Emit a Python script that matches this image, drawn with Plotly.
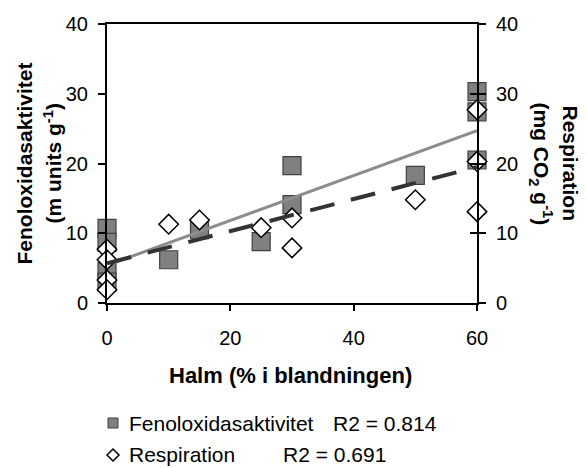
import plotly.graph_objects as go

# ---- data ----
fen_x = [0, 0, 0, 0, 10, 15, 25, 30, 30, 50, 60, 60, 60]
fen_y = [10.7, 8.7, 4.5, 3.0, 6.2, 10.5, 8.8, 19.7, 14.1, 18.3, 30.3, 27.4, 20.5]

resp_x = [0, 0, 0, 0, 10, 15, 25, 30, 30, 50, 60, 60, 60]
resp_y = [7.7, 6.2, 3.3, 1.9, 11.3, 11.9, 10.8, 12.2, 7.9, 14.8, 27.7, 20.3, 13.1]

trend_x = [0, 60]
fen_trend = [5.4, 24.7]
resp_trend = [5.7, 19.5]

x_ticks = [0, 20, 40, 60]
y_ticks = [0, 10, 20, 30, 40]

FONT = "Liberation Sans, Arial, sans-serif"

fig = go.Figure()

fig.add_trace(go.Scatter(
    x=fen_x, y=fen_y, mode="markers", showlegend=False, cliponaxis=False,
    marker=dict(symbol="square", size=18, color="#808080",
                line=dict(color="#404040", width=1.2)),
))
fig.add_trace(go.Scatter(
    x=resp_x, y=resp_y, mode="markers", showlegend=False, yaxis="y2", cliponaxis=False,
    marker=dict(symbol="diamond", size=15, color="white",
                line=dict(color="black", width=1.5)),
))
fig.add_trace(go.Scatter(
    x=trend_x, y=fen_trend, mode="lines", showlegend=False, cliponaxis=False,
    line=dict(color="#8c8c8c", width=3),
))
fig.add_trace(go.Scatter(
    x=trend_x, y=resp_trend, mode="lines", showlegend=False, yaxis="y2", cliponaxis=False,
    line=dict(color="#333333", width=4, dash="25px,17px"),
))
# invisible trace so the inner-tick overlay axis is drawn
fig.add_trace(go.Scatter(
    x=[0], y=[0], mode="markers", showlegend=False, yaxis="y3",
    marker=dict(opacity=0), hoverinfo="skip",
))

tickfont = dict(family=FONT, size=20, color="black")

fig.update_layout(
    width=579, height=460,
    margin=dict(l=99, r=110, t=16, b=165, autoexpand=False),
    paper_bgcolor="white", plot_bgcolor="white",
    font=dict(family=FONT, color="black"),
    xaxis=dict(range=[0, 60], tickvals=x_ticks, showgrid=False, zeroline=False,
               showline=True, linecolor="black", linewidth=2, mirror=True,
               ticks="outside", ticklen=6, tickwidth=2, tickcolor="black",
               tickfont=tickfont, ticklabelstandoff=10, automargin=False),
    yaxis=dict(range=[0, 40], tickvals=y_ticks, showgrid=False, zeroline=False,
               showline=True, linecolor="black", linewidth=2,
               ticks="outside", ticklen=7, tickwidth=2, tickcolor="black",
               tickfont=tickfont, ticklabelstandoff=6, automargin=False),
    yaxis2=dict(range=[0, 40], tickvals=y_ticks, showgrid=False, zeroline=False,
                overlaying="y", side="right", anchor="x",
                showline=True, linecolor="black", linewidth=2,
                ticks="outside", ticklen=7, tickwidth=2, tickcolor="black",
                tickfont=tickfont, ticklabelstandoff=6, automargin=False),
    yaxis3=dict(range=[0, 40], tickvals=y_ticks, showgrid=False, zeroline=False,
                overlaying="y", side="right", anchor="x",
                showline=False, showticklabels=False, automargin=False,
                ticks="inside", ticklen=7, tickwidth=2, tickcolor="black"),
)

def px_x(px):
    return (px - 107) / 370.0

def px_y(py):
    return (303 - py) / 279.0

title_font = dict(family=FONT, size=21, color="black")
common = dict(xref="paper", yref="paper", showarrow=False, yanchor="middle")
ann = []
ann.append(dict(text="<b>Halm (% i blandningen)</b>", x=px_x(290), y=px_y(375),
                xanchor="center", font=dict(family=FONT, size=22), **common))
ann.append(dict(text="<b>Fenoloxidasaktivitet</b>", x=px_x(24), y=0.5, textangle=-90,
                xanchor="center", font=title_font, **common))
ann.append(dict(text="<b>(m units g<sup>-1</sup>)</b>", x=px_x(52), y=0.5, textangle=-90,
                xanchor="center", font=title_font, **common))
ann.append(dict(text="<b>Respiration</b>", x=px_x(570), y=0.5, textangle=90,
                xanchor="center", font=title_font, **common))
ann.append(dict(text="<b>(mg CO<sub>2</sub> g<sup>-1</sup>)</b>", x=px_x(541), y=0.5, textangle=90,
                xanchor="center", font=title_font, **common))

legend_font = dict(family=FONT, size=21, color="black")
ann.append(dict(text="Fenoloxidasaktivitet", x=px_x(127), y=px_y(423), xanchor="left",
                font=legend_font, **common))
ann.append(dict(text="R2 = 0.814", x=px_x(331), y=px_y(423), xanchor="left",
                font=legend_font, **common))
ann.append(dict(text="Respiration", x=px_x(127), y=px_y(454), xanchor="left",
                font=legend_font, **common))
ann.append(dict(text="R2 = 0.691", x=px_x(281), y=px_y(454), xanchor="left",
                font=legend_font, **common))
fig.update_layout(annotations=ann)

shapes = []
shapes.append(dict(type="rect", xref="paper", yref="paper",
                   xsizemode="pixel", ysizemode="pixel",
                   xanchor=px_x(113), yanchor=px_y(423),
                   x0=-5, x1=5, y0=-5, y1=5,
                   fillcolor="#808080", line=dict(color="#404040", width=1)))
shapes.append(dict(type="path", xref="paper", yref="paper",
                   xsizemode="pixel", ysizemode="pixel",
                   xanchor=px_x(113), yanchor=px_y(455),
                   path="M -6 0 L 0 6 L 6 0 L 0 -6 Z",
                   fillcolor="white", line=dict(color="black", width=1.5)))
fig.update_layout(shapes=shapes)

fig.write_html("out.html")
